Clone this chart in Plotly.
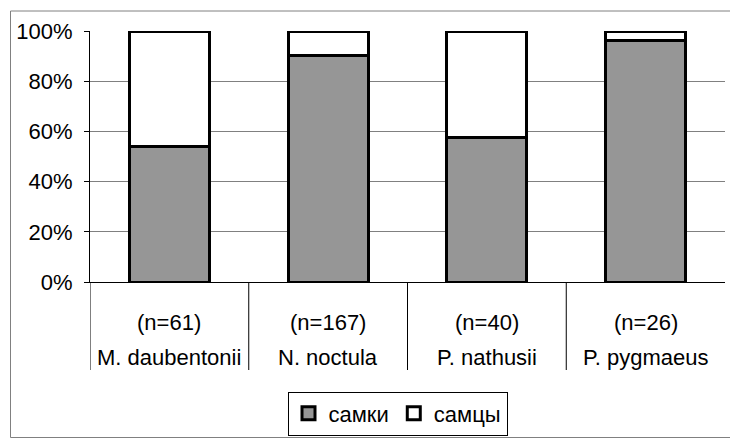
import plotly.graph_objects as go

species = ["M. daubentonii", "N. noctula", "P. nathusii", "P. pygmaeus"]
n_labels = ["(n=61)", "(n=167)", "(n=40)", "(n=26)"]
females = [54.1, 90.4, 57.5, 96.2]
males = [45.9, 9.6, 42.5, 3.8]
series_names = ["самки", "самцы"]
y_ticks = [0, 20, 40, 60, 80, 100]

# page body has an 8px margin, so the figure is drawn 8px in from the window edge
OFF = 8
W, H = 738 - OFF, 438 - OFF
# plot area in window pixels: x 90..725, y 31..282
L, R, T, B = 90 - OFF, 738 - 725, 31 - OFF, 438 - 282
pw, ph = W - L - R, H - T - B

def px_x(p):
    return (p - OFF - L) / pw

def px_y(p):
    return (H - B - (p - OFF)) / ph

FONT = "Liberation Sans, Arial, sans-serif"
colors = ["#969696", "white"]

fig = go.Figure()
for vals, name, col in zip([females, males], series_names, colors):
    fig.add_bar(x=species, y=vals, name=name, showlegend=False,
                marker=dict(color=col, line=dict(color="black", width=3)))
# legend entries (square swatches with heavy outline, as in the original)
for name, col in zip(series_names, colors):
    fig.add_scatter(x=[species[0]], y=[None], mode="markers", name=name,
                    marker=dict(symbol="square", size=13, color=col,
                                line=dict(color="black", width=3)))

shapes = []
for i in range(len(species)):
    shapes.append(dict(type="line", xref="x", yref="paper", x0=i - 0.5, x1=i - 0.5,
                       y0=0, y1=px_y(370), line=dict(color="black", width=1)))
shapes.append(dict(type="rect", xref="paper", yref="paper",
                   x0=px_x(10.5), x1=px_x(737), y0=px_y(437.5), y1=px_y(11),
                   line=dict(color="#808080", width=1), layer="below"))

annotations = []
for s, n in zip(species, n_labels):
    annotations.append(dict(x=s, xref="x", y=px_y(322), yref="paper", text=n,
                            showarrow=False, yanchor="middle",
                            font=dict(size=22, color="black", family=FONT)))
    annotations.append(dict(x=s, xref="x", y=px_y(357), yref="paper", text=s,
                            showarrow=False, yanchor="middle",
                            font=dict(size=22, color="black", family=FONT)))

fig.update_layout(
    width=W, height=H,
    margin=dict(l=L, r=R, t=T, b=B, autoexpand=False),
    barmode="stack", bargap=0.496,
    plot_bgcolor="white", paper_bgcolor="white",
    font=dict(family=FONT, size=22, color="black"),
    shapes=shapes, annotations=annotations,
    showlegend=True,
    legend=dict(orientation="h", x=px_x(397.5), xanchor="center",
                y=px_y(391.5), yanchor="top", traceorder="normal",
                bordercolor="black", borderwidth=1, bgcolor="white",
                font=dict(size=22, family=FONT, color="black"),
                itemwidth=30, itemsizing="trace", tracegroupgap=0),
    xaxis=dict(range=[-0.5, 3.5], showticklabels=False, showgrid=False,
               showline=True, linecolor="black", linewidth=1, ticks="",
               fixedrange=True, automargin=False),
    yaxis=dict(range=[0, 100], tickvals=y_ticks,
               ticktext=[f"{v}%" for v in y_ticks],
               showgrid=True, gridcolor="#808080", gridwidth=1,
               showline=True, linecolor="black", linewidth=1,
               ticks="outside", ticklen=5, tickcolor="black",
               ticklabelstandoff=7,
               zeroline=False, fixedrange=True, automargin=False),
)

fig.write_html("out.html")
